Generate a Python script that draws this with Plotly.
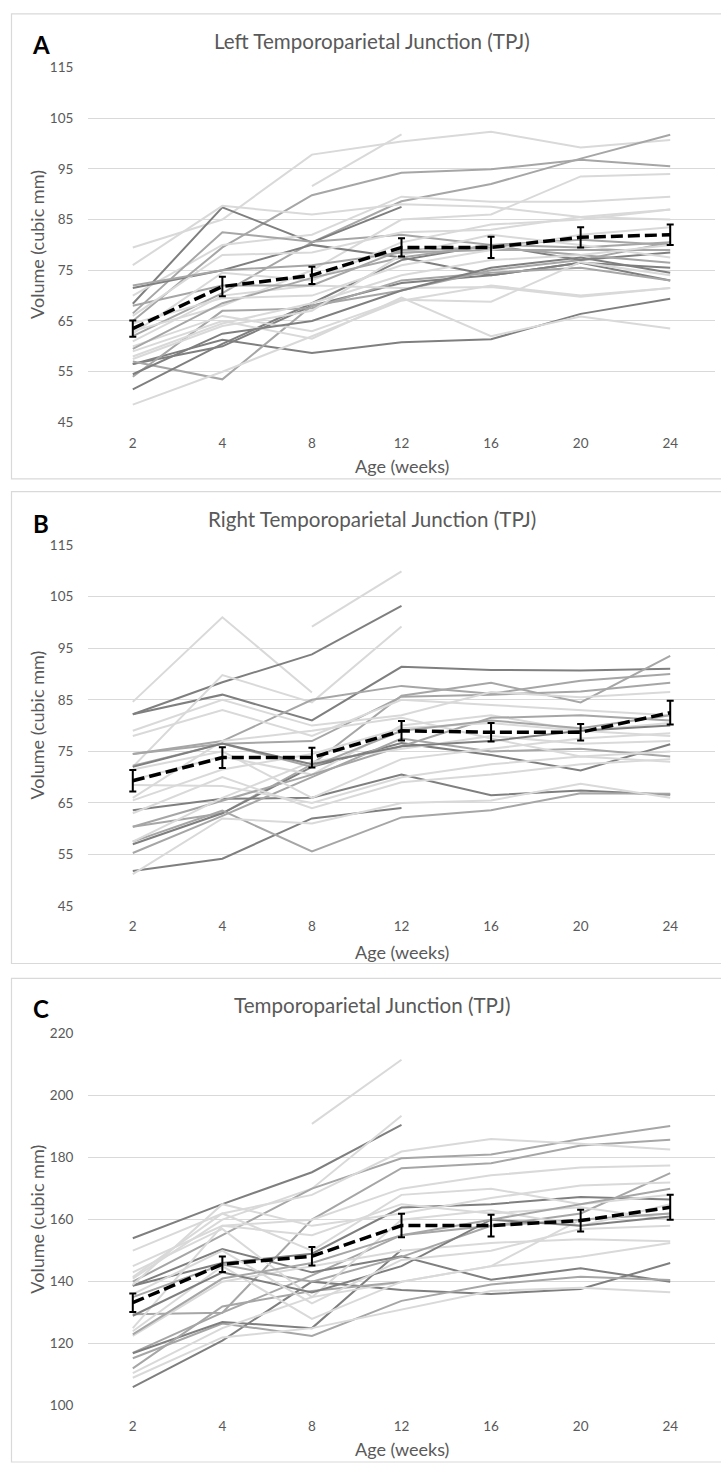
import plotly.graph_objects as go

W, H = 721, 1469
weeks = ["2", "4", "8", "12", "16", "20", "24"]

# ---------------- Panel A : Left TPJ ----------------
a_mean = [63.5, 71.8, 74.0, 79.5, 79.5, 81.5, 82.0]
a_err = [1.6, 1.9, 1.7, 1.8, 2.1, 2.0, 2.0]
a_lines = [
    [79.5, 85.0, 97.8, 100.4, 102.3, 99.2, 100.7],
    [None, None, 91.6, 101.8, None, None, None],
    [65.0, 79.5, 89.8, 94.2, 94.9, 96.8, 95.5],
    [62.0, 70.5, 80.5, 88.6, 92.0, 97.0, 101.7],
    [68.4, 87.4, 80.5, 87.5, None, None, None],
    [76.0, 87.7, 86.0, 88.0, 87.5, 85.5, 85.0],
    [70.0, 80.0, 82.0, 89.5, 88.5, 88.5, 89.5],
    [66.5, 82.5, 80.6, 82.0, 80.0, 79.5, 80.5],
    [63.0, 68.0, 75.0, 85.0, 86.0, 93.5, 94.0],
    [71.5, 75.0, 80.0, 77.5, 74.0, 76.5, 73.0],
    [56.5, 60.0, 68.0, 72.5, 74.0, 76.5, 75.5],
    [56.5, 61.3, 58.7, 60.8, 61.4, 66.4, 69.4],
    [57.0, 53.5, 68.0, 71.0, 75.0, 77.0, 80.5],
    [51.5, 60.5, 68.5, 77.0, 80.0, 77.0, 78.5],
    [54.0, 67.0, 67.5, 73.0, 74.5, 75.5, 73.0],
    [48.5, 55.0, 62.0, 69.0, 72.0, 70.0, 71.5],
    [59.0, 65.0, 61.5, 69.6, 62.0, 65.9, 63.5],
    [60.0, 66.0, 63.0, 69.2, 68.8, 76.6, 74.0],
    [61.0, 70.0, 72.0, 71.5, 71.7, 69.8, 71.5],
    [68.0, 72.0, 72.0, 79.0, 79.5, 78.0, 76.5],
    [62.5, 74.5, 73.0, 80.5, 84.0, 85.0, 87.0],
    [66.0, 78.0, 78.5, 82.5, 83.0, 85.5, 87.0],
    [59.5, 68.5, 73.5, 77.5, 80.0, 81.0, 80.0],
    [54.5, 62.5, 65.0, 71.0, 75.5, 77.5, 74.5],
    [57.5, 64.0, 67.0, 78.0, 82.0, 80.0, 77.5],
    [72.0, 75.0, 76.0, 78.5, 79.0, 79.0, 79.0],
    [64.5, 69.5, 70.0, 76.0, 79.0, 82.0, 83.5],
    [58.0, 64.5, 68.5, 74.0, 77.0, 78.0, 80.0],
]
a_shades = ["L", "L", "M", "M", "D", "L", "L", "M", "L", "D", "D", "D", "M", "D",
            "M", "L", "L", "L", "L", "M", "L", "L", "M", "D", "L", "M", "L", "L"]

# ---------------- Panel B : Right TPJ ----------------
b_mean = [69.3, 73.8, 73.8, 79.0, 78.7, 78.7, 82.5]
b_err = [2.1, 2.0, 1.9, 1.9, 1.8, 1.6, 2.3]
b_lines = [
    [84.6, 101.0, 86.4, None, None, None, None],
    [None, None, 99.2, 109.9, None, None, None],
    [82.2, 88.4, 93.8, 103.2, None, None, None],
    [82.2, 86.0, 81.0, 91.4, 90.8, 90.7, 91.0],
    [72.0, 89.8, 84.5, 99.2, None, None, None],
    [74.5, 77.0, 85.0, 87.7, 86.2, 88.7, 90.0],
    [72.2, 76.5, 77.0, 85.6, 86.0, 86.6, 88.3],
    [60.4, 63.0, 72.5, 85.8, 88.3, 84.5, 93.5],
    [63.6, 65.8, 66.0, 70.5, 66.5, 67.4, 66.6],
    [57.0, 63.0, 72.0, 76.6, 74.3, 71.3, 76.4],
    [51.8, 54.2, 62.0, 64.0, None, None, None],
    [57.5, 63.5, 55.6, 62.2, 63.6, 66.9, 66.8],
    [51.2, 62.0, 61.0, 65.0, 65.5, 68.7, 66.0],
    [55.3, 62.5, 70.0, 77.5, 75.0, 75.5, 74.0],
    [68.5, 68.3, 65.0, 70.0, 72.5, 74.0, 73.0],
    [69.5, 74.0, 70.5, 80.0, 82.0, 79.0, 80.5],
    [79.0, 85.0, 80.0, 82.0, 86.5, 85.5, 86.5],
    [78.0, 83.0, 78.0, 85.0, 84.0, 83.0, 82.0],
    [60.4, 65.5, 70.5, 76.0, 81.5, 82.0, 81.0],
    [57.5, 66.0, 73.0, 75.5, 78.0, 76.5, 77.0],
    [65.5, 71.5, 74.5, 79.5, 80.5, 79.0, 78.0],
    [66.0, 77.0, 79.0, 81.5, 77.5, 74.0, 75.0],
    [74.5, 76.5, 72.0, 79.0, 81.0, 79.5, 82.0],
    [71.5, 75.0, 66.0, 73.5, 75.5, 77.5, 78.5],
    [63.0, 70.0, 64.0, 69.0, 70.5, 72.5, 73.5],
    [72.0, 76.5, 72.5, 76.0, 77.0, 79.0, 80.0],
]
b_shades = ["L", "L", "D", "D", "L", "M", "M", "M", "D", "D", "D", "M", "L",
            "M", "L", "L", "L", "L", "M", "L", "L", "L", "M", "L", "L", "D"]

# ---------------- Panel C : TPJ ----------------
c_mean = [133.2, 145.6, 148.2, 158.1, 158.1, 159.7, 164.0]
c_err = [3.0, 2.5, 3.0, 3.8, 3.5, 3.5, 4.0]
c_lines = [
    [154.0, 165.0, 175.3, 190.6, None, None, None],
    [None, None, 190.9, 211.6, None, None, None],
    [141.0, 160.0, 170.0, 193.5, None, None, None],
    [140.0, 155.0, 170.0, 179.8, 181.0, 186.0, 190.2],
    [129.5, 130.0, 160.0, 176.6, 178.2, 183.9, 185.8],
    [150.0, 162.0, 168.0, 182.0, 186.0, 184.5, 182.6],
    [145.0, 158.0, 160.0, 170.0, 174.3, 176.8, 177.5],
    [138.7, 146.0, 149.0, 163.9, 165.0, 167.3, 166.5],
    [117.0, 130.0, 142.0, 155.0, 158.0, 162.0, 175.0],
    [138.7, 150.5, 143.0, 148.2, 140.6, 144.3, 140.0],
    [106.0, 121.0, 140.0, 137.3, 136.0, 137.6, 146.0],
    [115.3, 126.5, 122.5, 133.8, 139.1, 141.6, 140.5],
    [116.9, 127.0, 125.0, 150.3, None, None, None],
    [109.0, 122.0, 125.0, 131.0, 137.0, 138.0, 136.6],
    [110.5, 125.0, 135.0, 140.0, 145.0, 160.0, 162.0],
    [112.0, 132.0, 137.0, 139.9, None, None, None],
    [122.5, 140.0, 145.0, 150.0, 152.5, 153.7, 153.0],
    [124.0, 145.0, 128.0, 140.0, 145.0, 148.0, 152.5],
    [125.0, 158.0, 155.0, 165.0, 162.0, 164.0, 160.0],
    [135.0, 145.5, 140.0, 148.0, 158.0, 160.0, 162.0],
    [143.0, 157.0, 135.0, 160.0, 163.0, 158.0, 165.0],
    [141.5, 162.0, 150.0, 168.0, 170.0, 165.0, 168.0],
    [129.0, 143.0, 136.5, 145.0, 160.0, 158.0, 161.0],
    [136.0, 150.0, 133.0, 147.0, 150.0, 157.0, 158.0],
    [123.0, 141.0, 146.0, 155.0, 160.0, 165.0, 170.0],
    [139.0, 165.0, 158.0, 162.0, 167.0, 171.0, 172.0],
]
c_shades = ["D", "L", "L", "M", "M", "L", "L", "D", "M", "D", "D", "M", "D",
            "L", "L", "M", "L", "L", "L", "M", "L", "L", "D", "L", "M", "L"]

titles = ["Left Temporoparietal Junction (TPJ)",
          "Right Temporoparietal Junction (TPJ)",
          "Temporoparietal Junction (TPJ)"]
letters = ["A", "B", "C"]
y_ranges = [(45, 115, 10), (45, 115, 10), (100, 220, 20)]

SHADE = {"L": "#d9d9d9", "M": "#a6a6a6", "D": "#7f7f7f"}
TXT = "#595959"
FONT = "Lato"

# pixel layout of each panel
# (box_top, box_bottom, plot_top, plot_bottom, title_y, xtitle_y)
panels = [
    (6, 476, 60, 419, 33, 463),
    (489, 966, 543, 908, 517, 954),
    (981, 1470, 1037, 1413, 1008, 1457),
]
PX_L, PX_R = 88, 715


def fx(p):
    return p / W


def fy(p):
    return 1 - p / H


fig = go.Figure()
data = [(a_lines, a_shades, a_mean, a_err),
        (b_lines, b_shades, b_mean, b_err),
        (c_lines, c_shades, c_mean, c_err)]

annotations = []
shapes = []
for i, (lines, shades, mean, err) in enumerate(data):
    k = "" if i == 0 else str(i + 1)
    xa, ya = "x" + k, "y" + k
    for vals, sh in zip(lines, shades):
        fig.add_trace(go.Scatter(x=weeks, y=vals, mode="lines", xaxis=xa, yaxis=ya,
                                 line=dict(color=SHADE[sh], width=2),
                                 hoverinfo="skip", showlegend=False))
    fig.add_trace(go.Scatter(x=weeks, y=mean, mode="lines", xaxis=xa, yaxis=ya,
                             line=dict(color="black", width=3.5, dash="12px,5px"),
                             error_y=dict(type="data", array=err, visible=True,
                                          color="black", thickness=2, width=3.5),
                             showlegend=False))
    bt, bb, pt, pb, ty, xty = panels[i]
    lo, hi, dt = y_ranges[i]
    fig.layout["xaxis" + k] = dict(
        domain=[fx(PX_L), fx(PX_R)], anchor=ya, type="category",
        range=[-0.5, 6.5], showgrid=False, showline=False, zeroline=False,
        ticks="outside", ticklen=8, tickcolor="rgba(0,0,0,0)",
        tickfont=dict(family=FONT, size=13.5, color=TXT))
    fig.layout["yaxis" + k] = dict(
        domain=[fy(pb), fy(pt)], anchor=xa, range=[lo, hi], dtick=dt, tick0=lo,
        showgrid=True, gridcolor="#d9d9d9", gridwidth=1, zeroline=False,
        showline=False, ticks="outside", ticklen=11, tickcolor="rgba(0,0,0,0)",
        tickfont=dict(family=FONT, size=13.5, color=TXT))
    shapes.append(dict(type="rect", xref="paper", yref="paper",
                       x0=fx(11.5), x1=fx(730), y0=fy(bb), y1=fy(bt),
                       line=dict(color="#d9d9d9", width=1.2), layer="below"))
    annotations.append(dict(text=titles[i], xref="paper", yref="paper",
                            x=fx(372), y=fy(ty), xanchor="center", yanchor="middle",
                            showarrow=False, font=dict(family=FONT, size=20.6, color=TXT)))
    annotations.append(dict(text="<b>" + letters[i] + "</b>", xref="paper", yref="paper",
                            x=fx(41), y=fy(ty + 4), xanchor="center", yanchor="middle",
                            showarrow=False, font=dict(family=FONT, size=24, color="black")))
    annotations.append(dict(text="Age (weeks)", xref="paper", yref="paper",
                            x=fx((PX_L + PX_R) / 2), y=fy(xty), xanchor="center",
                            yanchor="middle", showarrow=False,
                            font=dict(family=FONT, size=18, color=TXT)))
    annotations.append(dict(text="Volume (cubic mm)", xref="paper", yref="paper",
                            x=fx(37), y=fy((pt + pb) / 2), xanchor="center",
                            yanchor="middle", textangle=-90, showarrow=False,
                            font=dict(family=FONT, size=18, color=TXT)))

fig.update_layout(width=W, height=H, margin=dict(l=0, r=0, t=0, b=0),
                  paper_bgcolor="white", plot_bgcolor="white",
                  annotations=annotations, shapes=shapes, showlegend=False)

fig.write_html("out.html")
